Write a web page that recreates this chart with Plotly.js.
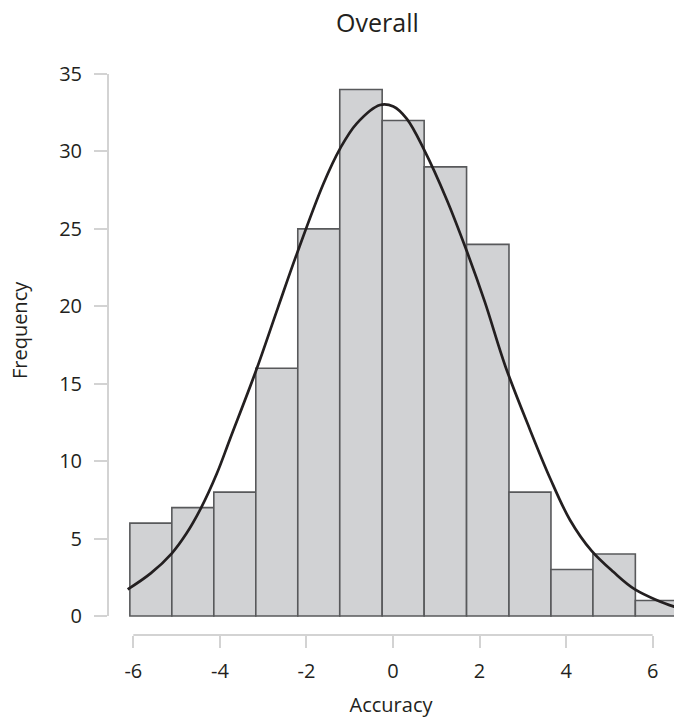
<!DOCTYPE html>
<html>
<head>
<meta charset="utf-8">
<script src="https://cdn.plot.ly/plotly-3.0.1.min.js"></script>
<style>html,body{margin:0;padding:0;background:#fff;}#chart{width:674px;height:718px;}</style>
</head>
<body>
<div id="chart"></div>
<script>
// Histogram bin edges (Accuracy) and counts (Frequency)
const binEdges = [-6.08, -5.11, -4.14, -3.17, -2.20, -1.23, -0.25, 0.72, 1.70, 2.68, 3.65, 4.62, 5.60, 6.57];
const counts   = [6, 7, 8, 16, 25, 34, 32, 29, 24, 8, 3, 4, 1];

// Fitted density curve points
const curveX = [-6.13, -5.60, -5.11, -4.77, -4.44, -4.07, -3.77, -3.17, -2.66, -2.22, -1.61, -1.22, -0.84, -0.30, 0.01, 0.32, 0.72, 1.24, 1.70, 2.12, 2.60, 3.17, 3.63, 4.09, 4.59, 5.09, 5.60, 6.48, 6.70];
const curveY = [1.72, 2.75, 4.05, 5.34, 6.95, 9.2, 11.4, 15.8, 19.9, 23.4, 27.9, 30.2, 31.8, 33.0, 32.9, 32.1, 30.1, 26.9, 23.6, 20.3, 16.1, 12.0, 8.9, 6.2, 4.2, 2.85, 1.70, 0.62, 0.50];

const xTicks = [-6, -4, -2, 0, 2, 4, 6];
const yTicks = [0, 5, 10, 15, 20, 25, 30, 35];

const centers = counts.map((_, i) => (binEdges[i] + binEdges[i + 1]) / 2);
const widths = counts.map((_, i) => binEdges[i + 1] - binEdges[i]);

const txt = '#231f20';
const axisCol = '#d3d3d3';
const font = 'Open Sans, Noto Sans, sans-serif';

const traces = [
  {
    type: 'bar', x: centers, y: counts, width: widths,
    marker: {color: '#d1d2d4', line: {color: '#58595b', width: 1.6}},
    hoverinfo: 'x+y', showlegend: false
  },
  {
    type: 'scatter', mode: 'lines', x: curveX, y: curveY,
    line: {color: '#231f20', width: 2.7, shape: 'spline', smoothing: 1},
    showlegend: false
  }
];

const layout = {
  width: 674, height: 718,
  margin: {l: 108, r: 0, t: 74, b: 83},
  paper_bgcolor: '#fff', plot_bgcolor: '#fff',
  font: {family: font, color: txt, size: 20},
  bargap: 0,
  title: {text: 'Overall', font: {family: font, size: 25, color: txt},
          x: 0.56, xref: 'container', xanchor: 'center',
          y: 0.968, yref: 'container', yanchor: 'middle'},
  xaxis: {
    range: [-6.585, 6.493], tickvals: xTicks, ticktext: xTicks.map(String),
    ticks: 'outside', ticklen: 12, tickwidth: 2, tickcolor: axisCol,
    showline: false, showgrid: false, zeroline: false,
    ticklabelstandoff: 6,
    tickfont: {family: font, size: 20, color: txt},
    title: {text: 'Accuracy', font: {family: font, size: 20, color: txt}, standoff: 14}
  },
  yaxis: {
    range: [-1.227, 35], tickvals: yTicks, ticktext: yTicks.map(String),
    ticks: 'outside', ticklen: 13, tickwidth: 2, tickcolor: axisCol,
    showline: false, showgrid: false, zeroline: false,
    ticklabelstandoff: 8,
    tickfont: {family: font, size: 20, color: txt}
  },
  shapes: [
    {type: 'line', xref: 'x', yref: 'paper', x0: xTicks[0], x1: xTicks[xTicks.length - 1], y0: 0, y1: 0,
     line: {color: axisCol, width: 2}},
    {type: 'line', xref: 'paper', yref: 'y', x0: 0, x1: 0, y0: yTicks[0], y1: yTicks[yTicks.length - 1],
     line: {color: axisCol, width: 2}}
  ],
  annotations: [
    {text: 'Frequency', textangle: -90, showarrow: false,
     xref: 'paper', yref: 'paper', x: -0.155, y: 0.544, xanchor: 'center', yanchor: 'middle',
     font: {family: font, size: 20, color: txt}}
  ]
};

Plotly.newPlot('chart', traces, layout, {displayModeBar: false, staticPlot: true});
</script>
</body>
</html>
